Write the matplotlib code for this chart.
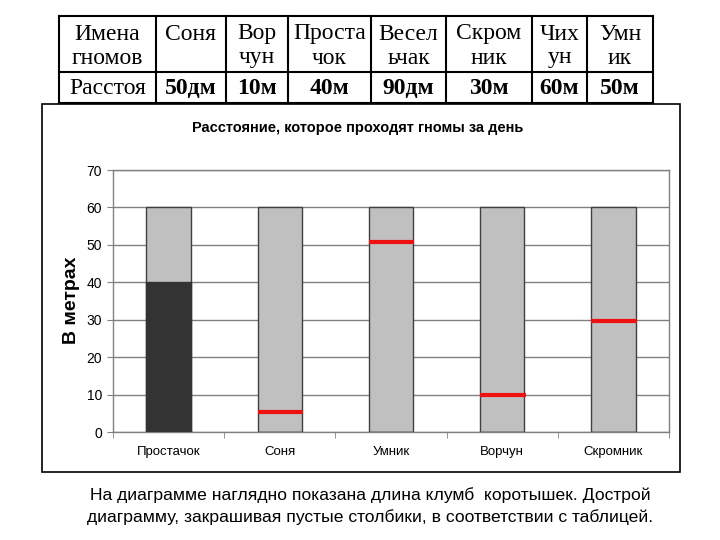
import matplotlib
matplotlib.use('Agg')
from matplotlib import pyplot as plt
from matplotlib import patches as mpatches

# table above the chart
table_header = ['Имена\nгномов', 'Соня', 'Вор\nчун', 'Проста\nчок', 'Весел\nьчак',
                'Скром\nник', 'Чих\nун', 'Умн\nик']
table_values = ['Расстоя', '50дм', '10м', '40м', '90дм', '30м', '60м', '50м']

# chart data
categories = ['Простачок', 'Соня', 'Умник', 'Ворчун', 'Скромник']
bar_empty = [60, 60, 60, 60, 60]
bar_filled = [40, 0, 0, 0, 0]
red_marks = [None, 5.3, 50.8, 10, 29.6]
y_ticks = [0, 10, 20, 30, 40, 50, 60, 70]

title = 'Расстояние, которое проходят гномы за день'
y_label = 'В метрах'
caption = ('На диаграмме наглядно показана длина клумб  коротышек. Дострой\n'
           'диаграмму, закрашивая пустые столбики, в соответствии с таблицей.')

sans = ['Liberation Sans', 'DejaVu Sans']
serif = ['Liberation Serif', 'DejaVu Serif']

W, H = 720, 540
fig = plt.figure(figsize=(7.2, 5.4), dpi=100)

# overlay in pixel coordinates for the table, box and caption
ov = fig.add_axes([0, 0, 1, 1], zorder=0)
ov.set_xlim(0, W)
ov.set_ylim(H, 0)
ov.axis('off')

col_x = [59, 156, 226, 288, 371, 446, 532, 587, 653]
row_y = [16, 72, 103]
for x in col_x:
    ov.plot([x, x], [row_y[0], row_y[-1]], color='black', lw=1.5)
for y in row_y:
    ov.plot([col_x[0], col_x[-1]], [y, y], color='black', lw=1.5)

for i, (head, val) in enumerate(zip(table_header, table_values)):
    cx = (col_x[i] + col_x[i + 1]) / 2
    lines = head.split('\n')
    for j, ln in enumerate(lines):
        ov.text(cx, 34 + j * 24, ln, ha='center', va='center',
                family=serif, fontsize=17)
    ov.text(cx, 88, val, ha='center', va='center', family=serif, fontsize=17,
            fontweight='bold' if i > 0 else 'normal')

# chart frame
ov.add_patch(mpatches.Rectangle((42, 104), 638, 368, fill=False,
                                edgecolor='black', lw=1.2))
ov.text(358, 128, title, ha='center', va='center', family=sans,
        fontsize=10.5, fontweight='bold')
ov.text(72, 300, y_label, ha='center', va='center', rotation=90,
        family=sans, fontsize=14, fontweight='bold')
ov.text(370, 506, caption, ha='center', va='center', family=sans,
        fontsize=12.6, linespacing=1.45)

# plot area
ax = fig.add_axes([113 / W, (H - 432) / H, 556 / W, 262 / H], zorder=1)
x = range(len(categories))
ax.bar(x, bar_empty, width=0.4, color='#c0c0c0', edgecolor='#404040',
       lw=1, zorder=2)
ax.bar(x, bar_filled, width=0.4, color='#333333', edgecolor='#333333',
       lw=1, zorder=3)
for i, v in enumerate(red_marks):
    if v is not None:
        ax.hlines(v, i - 0.2, i + 0.21, color='#ee1111', lw=3, zorder=4)

ax.set_xlim(-0.5, len(categories) - 0.5)
ax.set_ylim(0, 70)
ax.set_yticks(y_ticks)
ax.yaxis.grid(True, color='#808080', lw=1)
ax.set_axisbelow(True)
ax.set_xticks(x)
ax.set_xticklabels(categories, family=sans, fontsize=9.5)
ax.set_xticks([i + 0.5 for i in range(-1, len(categories))], minor=True)
ax.tick_params(axis='x', which='major', length=0, pad=10)
ax.tick_params(axis='x', which='minor', length=4, color='#808080', direction='out')
ax.tick_params(axis='y', length=4, color='#808080', direction='out', pad=4)
for lab in ax.get_yticklabels():
    lab.set_family(sans)
    lab.set_fontsize(10)
for sp in ax.spines.values():
    sp.set_color('#808080')
    sp.set_linewidth(1)

fig.savefig('out.png', dpi=100)
